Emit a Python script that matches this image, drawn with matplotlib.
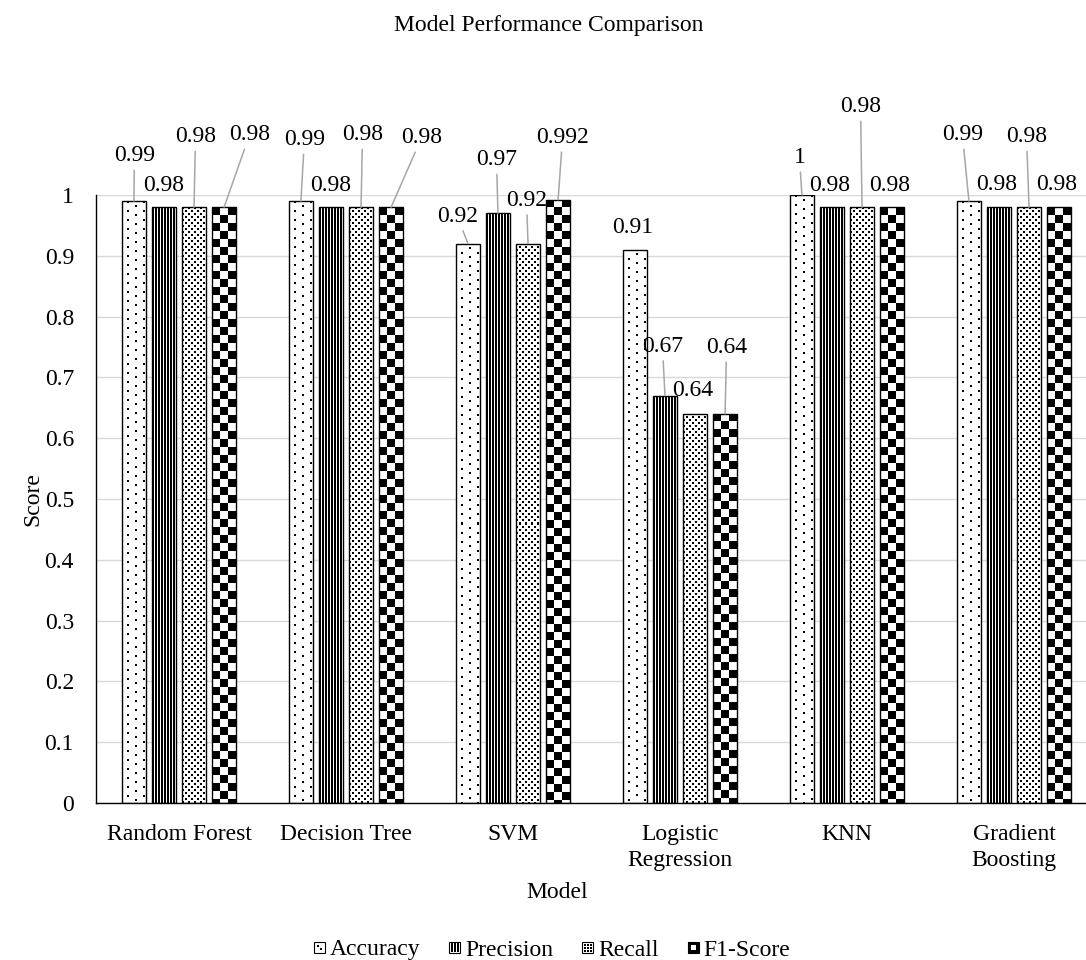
import numpy as np
import matplotlib
matplotlib.use("Agg")
import matplotlib.pyplot as plt
from matplotlib.patches import Patch, Rectangle
from matplotlib.legend_handler import HandlerBase

# ---- data -------------------------------------------------------------
models = ["Random Forest", "Decision Tree", "SVM", "Logistic\nRegression",
          "KNN", "Gradient\nBoosting"]
metrics = ["Accuracy", "Precision", "Recall", "F1-Score"]
accuracy = [0.99, 0.99, 0.92, 0.91, 1.0, 0.99]
precision = [0.98, 0.98, 0.97, 0.67, 0.98, 0.98]
recall = [0.98, 0.98, 0.92, 0.64, 0.98, 0.98]
f1_score = [0.98, 0.98, 0.992, 0.64, 0.98, 0.98]
y_ticks = [0, 0.1, 0.2, 0.3, 0.4, 0.5, 0.6, 0.7, 0.8, 0.9, 1]
y_tick_labels = ["0", "0.1", "0.2", "0.3", "0.4", "0.5", "0.6", "0.7",
                 "0.8", "0.9", "1"]

series = [accuracy, precision, recall, f1_score]

# ---- label placement (pixel offsets of each value label from its bar top)
label_offsets = [
    [(0.5, 48), (3.5, 64), (-10.5, 30), (-2.5, 25), (-2.5, 40), (-6.5, 69)],
    [(-0.5, 24), (-0.5, 24), (-1.5, 56), (-2.5, 52), (-2.5, 24), (-2.5, 25)],
    [(1.5, 73), (1.5, 75), (-1.5, 46), (-2.5, 26), (-1.5, 103), (-2.5, 73)],
    [(25.5, 75), (30.5, 72), (4.5, 65), (1.5, 69), (-2.5, 24), (-2.5, 25)],
]


# ---- fill patterns (1 = black pixel) ----------------------------------
def dotted_sparse():
    t = np.zeros((18, 16))
    for r, c in [(0, 5), (9, 5), (4, 13), (13, 13)]:
        t[r:r + 2, c:c + 2] = 1
    return t


def vertical_lines():
    return np.array([[1, 1, 0]], dtype=float)


def dotted_dense():
    t = np.zeros((6, 6))
    t[0:2, 0:2] = 1
    t[3:5, 3:5] = 1
    return t


def checker():
    t = np.zeros((16, 16))
    t[0:8, 0:8] = 1
    t[8:16, 8:16] = 1
    return t


patterns = [dotted_sparse(), vertical_lines(), dotted_dense(), checker()]


# small legend swatches, 11 x 11 pixels
def icon_dots_sparse():
    t = np.zeros((11, 11))
    t[3:5, 3:5] = 1
    t[6:8, 6:8] = 1
    return t


def icon_lines():
    t = np.zeros((11, 11))
    t[1:10, 2:4] = 1
    t[1:10, 5:7] = 1
    t[1:10, 8:10] = 1
    return t


def icon_dots_dense():
    t = np.zeros((11, 11))
    for r in (2, 5, 8):
        for c in (2, 5, 8):
            t[r:r + 2, c:c + 2] = 1
    return t


def icon_frame():
    t = np.ones((11, 11))
    t[3:8, 3:8] = 0
    return t


icons = [icon_dots_sparse(), icon_lines(), icon_dots_dense(), icon_frame()]


class PatternHandler(HandlerBase):
    """Legend swatch drawn pixel by pixel from a small 0/1 array."""

    def __init__(self, icon):
        super().__init__()
        self.icon = icon

    def create_artists(self, legend, orig_handle, xdescent, ydescent,
                       width, height, fontsize, trans):
        n = self.icon.shape[0]
        px = 72 / 100
        size = n * px
        x0 = -xdescent + (width - size) / 2
        y0 = -ydescent + (height - size) / 2
        arts = [Rectangle((x0, y0), size, size, facecolor="white",
                          edgecolor="black", linewidth=0.8, transform=trans)]
        for r, c in zip(*np.nonzero(self.icon)):
            arts.append(Rectangle((x0 + c * px, y0 + (n - 1 - r) * px), px, px,
                                  facecolor="black", edgecolor="none",
                                  transform=trans))
        return arts


# ---- figure -----------------------------------------------------------
plt.rcParams["font.family"] = ["Liberation Serif", "DejaVu Serif"]
FS = 17

W, H = 1086, 960
fig = plt.figure(figsize=(W / 100, H / 100), dpi=100, facecolor="white")
ax_left, ax_right, ax_bottom, ax_top = 95.5, 1097.5, 803, 195
ax = fig.add_axes([ax_left / W, 1 - ax_bottom / H,
                   (ax_right - ax_left) / W, (ax_bottom - ax_top) / H])

x = np.arange(len(models))
bar_w = 0.147
pitch = 0.18
offsets = [(-1.5 + i) * pitch for i in range(4)]

ax.set_xlim(-0.5, len(models) - 0.5)
ax.set_ylim(0, 1)
ax.set_autoscale_on(False)

for vals, off, tile in zip(series, offsets, patterns):
    bars = ax.bar(x + off, vals, bar_w, color="white", edgecolor="none",
                  zorder=2)
    for rect in bars:
        (px0, py0) = ax.transData.transform((rect.get_x(), 0))
        (px1, py1) = ax.transData.transform((rect.get_x() + rect.get_width(),
                                             rect.get_height()))
        wpx = max(int(round(px1 - px0)), 1)
        hpx = max(int(round(py1 - py0)), 1)
        th, tw = tile.shape
        arr = np.tile(tile, (hpx // th + 1, wpx // tw + 1))[:hpx, :wpx]
        im = ax.imshow(arr, cmap="gray_r", vmin=0, vmax=1,
                       extent=(rect.get_x(), rect.get_x() + rect.get_width(),
                               0, rect.get_height()),
                       origin="upper", interpolation="nearest",
                       aspect="auto", zorder=2.5)
        im.set_clip_path(rect)
    ax.bar(x + off, vals, bar_w, fill=False, edgecolor="black",
           linewidth=1.0, zorder=3)

# value labels with leader lines
px2pt = 72 / 100
baseline_shift = 0.34 * FS * 100 / 72
for vals, off, offs in zip(series, offsets, label_offsets):
    for xi, v, (dx, dy) in zip(x, vals, offs):
        props = None
        if dy >= 28:
            props = dict(arrowstyle="-", color="#a6a6a6", lw=1.1,
                         shrinkA=1, shrinkB=0)
        ax.annotate(f"{v:g}", xy=(xi + off, v),
                    xytext=(dx * px2pt, (dy - baseline_shift) * px2pt),
                    textcoords="offset points", ha="center", va="baseline",
                    fontsize=FS, color="black", arrowprops=props,
                    annotation_clip=False, zorder=4)

# axes styling
ax.set_yticks(y_ticks)
ax.set_yticklabels(y_tick_labels)
ax.set_xticks(x)
ax.set_xticklabels(models)
for lbl in ax.get_xticklabels():
    lbl.set_linespacing(1.35)
ax.tick_params(axis="y", length=0, pad=15.5, labelsize=FS)
ax.tick_params(axis="x", length=0, pad=15, labelsize=FS)
ax.grid(axis="y", color="#d9d9d9", linewidth=1.0)
ax.set_axisbelow(True)
for side in ["top", "right"]:
    ax.spines[side].set_visible(False)
ax.spines["left"].set_color("black")
ax.spines["left"].set_linewidth(1.0)
ax.spines["bottom"].set_color("black")
ax.spines["bottom"].set_linewidth(1.0)

ax.set_xlabel("Model", fontsize=FS)
ax.xaxis.set_label_coords((557 - ax_left) / (ax_right - ax_left), -0.13)
ax.set_ylabel("Score", fontsize=FS)
ax.yaxis.set_label_coords(-0.0524, 0.5)

fig.text(549 / W, 1 - 25 / H, "Model Performance Comparison",
         ha="center", va="center", fontsize=FS)

handles = [Patch(facecolor="white", edgecolor="black") for _ in metrics]
fig.legend(handles, metrics, loc="center", bbox_to_anchor=(552 / W, 1 - 950 / H),
           ncol=4, frameon=False, fontsize=FS, handlelength=0.5,
           handleheight=0.5, handletextpad=0.2, columnspacing=1.2,
           handler_map={h: PatternHandler(ic) for h, ic in zip(handles, icons)})

fig.savefig("out.png", dpi=100, facecolor="white")
